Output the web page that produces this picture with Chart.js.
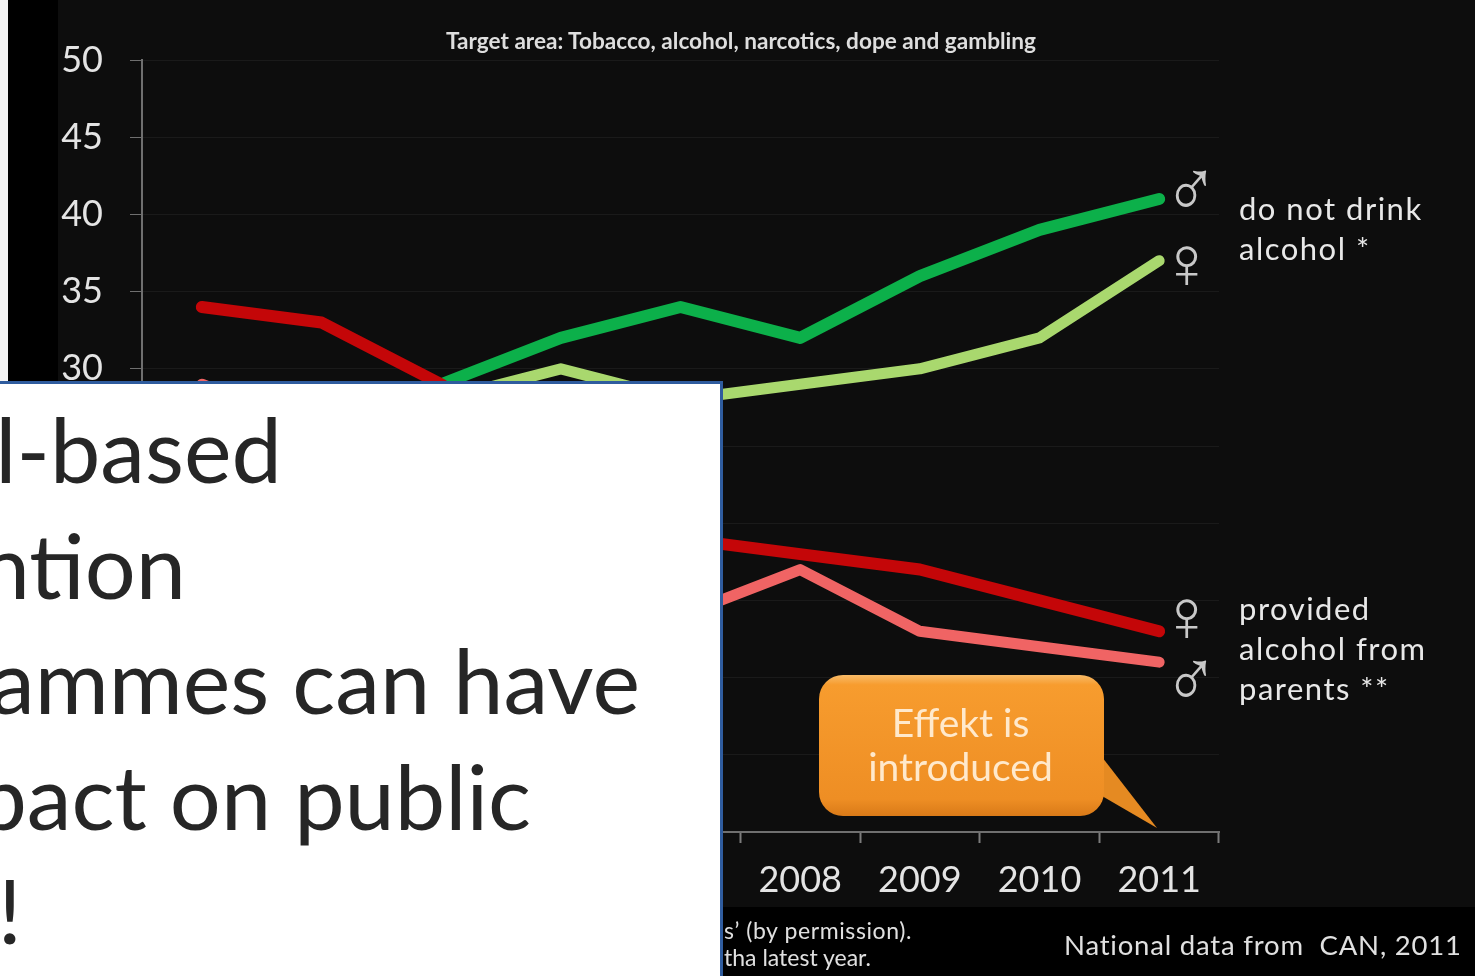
<!DOCTYPE html>
<html lang="en">
<head>
<meta charset="utf-8">
<title>Target area: Tobacco, alcohol, narcotics, dope and gambling</title>
<script src="https://cdn.jsdelivr.net/npm/chart.js@4"></script>
<style>
  html, body { margin: 0; padding: 0; background: #0d0d0d; }
  #stage { position: relative; width: 1475px; height: 976px; overflow: hidden; background: #0d0d0d; font-family: Lato, sans-serif; }
  #edge-white { position: absolute; left: 0; top: 0; width: 8px; height: 976px; background: #f4f4f4; }
  #edge-black { position: absolute; left: 8px; top: 0; width: 50px; height: 976px; background: #000; }
  #footer-band { position: absolute; left: 0; top: 907px; width: 1475px; height: 69px; background: #000; }
  #chart { position: absolute; left: 0; top: 0; }
  .t { position: absolute; white-space: nowrap; line-height: 1; }
  .note { color: #e0e0e0; font-size: 23px; }
  .side { color: #e8e8e8; font-size: 31px; letter-spacing: 1.5px; }
  .sym { color: #c8c8c8; font-family: "Liberation Sans", sans-serif; }
  .male { font-size: 72px; transform: scaleY(1.15); transform-origin: top left; }
  .female { font-size: 74px; }
  .call { color: #ffe9cc; font-size: 39px; width: 285px; left: 818px; text-align: center; }
  #panel { position: absolute; left: -6px; top: 381px; width: 723px; height: 600px; background: #fff; border: 3px solid #2f5c9e; }
  .big { position: absolute; color: #262626; font-size: 90px; line-height: 1; white-space: nowrap; }
</style>
</head>
<body>
<div id="stage">
  <div id="edge-white"></div>
  <div id="edge-black"></div>
  <div id="footer-band"></div>
  <canvas id="chart" width="1475" height="976"></canvas>

  <div class="t" style="left:446px;top:30px;font-size:22.6px;font-weight:700;color:#dedede;">Target area: Tobacco, alcohol, narcotics, dope and gambling</div>

  <div class="t sym male" style="left:1164px;top:147px;">&#9794;</div>
  <div class="t sym female" style="left:1159px;top:226px;">&#9792;</div>
  <div class="t sym female" style="left:1159px;top:579px;">&#9792;</div>
  <div class="t sym male" style="left:1164px;top:637px;">&#9794;</div>

  <div class="t side" style="left:1239px;top:193px;">do not drink</div>
  <div class="t side" style="left:1239px;top:233px;">alcohol *</div>
  <div class="t side" style="left:1239px;top:593px;">provided</div>
  <div class="t side" style="left:1239px;top:633px;">alcohol from</div>
  <div class="t side" style="left:1239px;top:673px;">parents **</div>

  <svg style="position:absolute;left:800px;top:660px;" width="380" height="180" viewBox="800 660 380 180">
    <defs>
      <linearGradient id="orange" x1="0" y1="0" x2="0" y2="1">
        <stop offset="0" stop-color="#f8bb68"/>
        <stop offset="0.07" stop-color="#f79c2e"/>
        <stop offset="0.88" stop-color="#ee8e24"/>
        <stop offset="1" stop-color="#d97a18"/>
      </linearGradient>
    </defs>
    <path d="M1102 757 L1157 828 L1102 796 Z" fill="#e58a22"/>
    <rect x="819" y="675" width="285" height="141" rx="24" ry="24" fill="url(#orange)"/>
  </svg>
  <div class="t call" style="top:703px;">Effekt is</div>
  <div class="t call" style="top:747px;">introduced</div>

  <div class="t note" style="left:724px;top:919px;letter-spacing:.6px;">s’ (by permission).</div>
  <div class="t note" style="left:724px;top:946px;">tha latest year.</div>
  <div class="t note" style="left:1064px;top:931px;font-size:27.5px;letter-spacing:.8px;">National data from&nbsp; CAN, 2011</div>

  <div id="panel"></div>
  <div class="big" style="right:1193px;top:403px;">l-based</div>
  <div class="big" style="right:1289px;top:519px;">ntion</div>
  <div class="big" style="right:835px;top:634px;">ammes can have</div>
  <div class="big" style="right:944px;top:750px;">pact on public</div>
  <div class="big" style="right:1453px;top:864px;">!</div>
</div>

<script>
// Survey years along the bottom axis
const years = ['2003','2004','2005','2006','2007','2008','2009','2010','2011'];
const yTicks = [0,5,10,15,20,25,30,35,40,45,50];

// Percent of pupils by group
const noDrinkBoys    = [23, 26, 29, 32, 34, 32, 36, 39, 41];
const noDrinkGirls   = [24, 27, 28, 30, 28, 29, 30, 32, 37];
const providedGirls  = [34, 33, 29, 24, 19, 18, 17, 15, 13];
const providedBoys   = [29, 26, 22, 18, 14, 17, 13, 12, 11];

const line = (label, data, color, width) => ({
  label, data,
  borderColor: color,
  backgroundColor: color,
  borderWidth: width,
  borderCapStyle: 'round',
  borderJoinStyle: 'round',
  tension: 0,
  pointRadius: 0,
  pointHoverRadius: 0,
  fill: false
});

new Chart(document.getElementById('chart'), {
  type: 'line',
  data: {
    labels: years,
    datasets: [
      line('Do not drink alcohol, girls', noDrinkGirls, '#a9d86e', 11),
      line('Provided alcohol from parents, boys', providedBoys, '#f06464', 11),
      line('Provided alcohol from parents, girls', providedGirls, '#c40608', 12),
      line('Do not drink alcohol, boys', noDrinkBoys, '#0cb04a', 12)
    ]
  },
  options: {
    responsive: false,
    animation: false,
    layout: { padding: { top: 60, right: 256, left: 0, bottom: 0 } },
    plugins: { legend: { display: false }, title: { display: false }, tooltip: { enabled: false } },
    scales: {
      x: {
        offset: true,
        afterFit: s => { s.height = 144; },
        grid: { offset: true, drawOnChartArea: false, drawTicks: true, tickLength: 11, tickColor: '#7c7c7c', tickWidth: 2 },
        border: { color: '#6f6f6f', width: 2 },
        ticks: { color: '#e4e4e4', font: { family: 'Lato', size: 36 }, padding: 16, maxRotation: 0, autoSkip: false }
      },
      y: {
        min: 0,
        max: 50,
        afterFit: s => { s.width = 142; },
        afterBuildTicks: s => { s.ticks = yTicks.map(value => ({ value })); },
        grid: { color: '#1a1a1a', lineWidth: 1, tickLength: 12, tickColor: '#6f6f6f' },
        border: { color: '#6f6f6f', width: 2 },
        ticks: { color: '#e4e4e4', font: { family: 'Lato', size: 36 }, padding: 27 }
      }
    }
  }
});
</script>
</body>
</html>
